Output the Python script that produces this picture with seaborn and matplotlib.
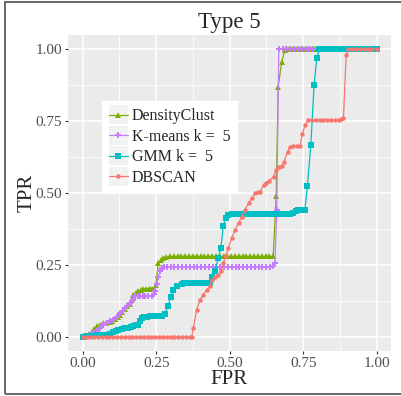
import numpy as np
import pandas as pd
import matplotlib
matplotlib.use('Agg')
import matplotlib.pyplot as plt
from matplotlib.patches import Rectangle
from matplotlib.legend_handler import HandlerLine2D
import seaborn as sns

# ROC points
dens_fpr = [0, 0.01, 0.02, 0.03, 0.04, 0.048, 0.06, 0.07, 0.08, 0.093, 0.10, 0.11, 0.12,
            0.127, 0.135, 0.144, 0.152, 0.161, 0.167, 0.172, 0.18, 0.189, 0.197, 0.206,
            0.215, 0.224, 0.233, 0.24, 0.249, 0.257, 0.265, 0.274, 0.285, 0.297,
            0.31, 0.323, 0.336, 0.349, 0.362, 0.375, 0.388, 0.401, 0.414, 0.427, 0.44,
            0.453, 0.466, 0.479, 0.492, 0.505, 0.518, 0.531, 0.544, 0.557, 0.57, 0.583,
            0.596, 0.609, 0.622, 0.635, 0.648, 0.658, 0.665, 0.677, 0.688,
            0.70, 0.713, 0.726, 0.739, 0.752, 0.765, 0.778, 0.791, 0.804, 0.817, 0.83,
            0.843, 0.856, 0.869, 0.882, 0.895, 0.908, 0.921, 0.934, 0.947, 0.96, 0.973,
            0.986, 1.0]
dens_tpr = [0, 0.005, 0.01, 0.016, 0.027, 0.037, 0.043, 0.049, 0.05, 0.052, 0.056, 0.063, 0.07,
            0.078, 0.088, 0.097, 0.106, 0.116, 0.13, 0.147, 0.153, 0.159, 0.163, 0.167,
            0.167, 0.167, 0.167, 0.167, 0.182, 0.257, 0.266, 0.274, 0.278, 0.28,
            0.28, 0.28, 0.28, 0.28, 0.28, 0.28, 0.28, 0.28, 0.28, 0.28, 0.28,
            0.28, 0.28, 0.28, 0.28, 0.28, 0.28, 0.28, 0.28, 0.28, 0.28, 0.28,
            0.28, 0.28, 0.28, 0.28, 0.28, 0.488, 0.869, 0.956, 0.997,
            1, 1, 1, 1, 1, 1, 1, 1, 1, 1, 1,
            1, 1, 1, 1, 1, 1, 1, 1, 1, 1, 1,
            1, 1]

km_fpr = [0, 0.012, 0.024, 0.036, 0.048, 0.059, 0.07, 0.082, 0.093, 0.104, 0.115, 0.127,
          0.136, 0.144, 0.152, 0.161, 0.17, 0.178, 0.187, 0.195, 0.204, 0.213, 0.222,
          0.235, 0.241, 0.246, 0.252, 0.257, 0.263, 0.269, 0.278, 0.286,
          0.299, 0.312, 0.325, 0.338, 0.351, 0.364, 0.377, 0.39, 0.403, 0.416, 0.429,
          0.442, 0.455, 0.468, 0.481, 0.494, 0.507, 0.52, 0.533, 0.546, 0.559, 0.572,
          0.585, 0.598, 0.611, 0.624, 0.637, 0.648, 0.654, 0.66, 0.667,
          0.68, 0.693, 0.706, 0.719, 0.732, 0.745, 0.758, 0.771, 0.784, 0.797, 0.81,
          0.823, 0.836, 0.849, 0.862, 0.875, 0.888, 0.901, 0.914, 0.927, 0.94, 0.953,
          0.966, 0.979, 0.992, 1.0]
km_tpr = [0, 0.002, 0.006, 0.014, 0.022, 0.031, 0.04, 0.049, 0.055, 0.06, 0.07, 0.083,
          0.092, 0.1, 0.109, 0.118, 0.13, 0.141, 0.141, 0.141, 0.141, 0.141, 0.141,
          0.141, 0.15, 0.159, 0.185, 0.21, 0.228, 0.24, 0.242, 0.243,
          0.243, 0.243, 0.243, 0.243, 0.243, 0.243, 0.243, 0.243, 0.243, 0.243, 0.243,
          0.243, 0.243, 0.243, 0.243, 0.243, 0.243, 0.243, 0.243, 0.243, 0.243, 0.243,
          0.243, 0.243, 0.243, 0.243, 0.243, 0.245, 0.257, 0.44, 1.0,
          1, 1, 1, 1, 1, 1, 1, 1, 1, 1, 1,
          1, 1, 1, 1, 1, 1, 1, 1, 1, 1, 1,
          1, 1, 1, 1]

gmm_fpr = [0, 0.012, 0.024, 0.036, 0.048, 0.059, 0.07, 0.082, 0.093, 0.104, 0.113, 0.121,
           0.132, 0.144, 0.155, 0.165, 0.172, 0.18, 0.189, 0.195, 0.2, 0.21, 0.22, 0.229,
           0.24, 0.25, 0.26, 0.269, 0.28, 0.289, 0.3, 0.308, 0.32, 0.337, 0.345, 0.354,
           0.363, 0.372, 0.381, 0.39, 0.399, 0.408, 0.417, 0.426, 0.433,
           0.439, 0.45, 0.461, 0.47, 0.478, 0.486, 0.495, 0.507,
           0.516, 0.525, 0.534, 0.543, 0.552, 0.561, 0.57, 0.579, 0.588, 0.597, 0.606,
           0.615, 0.624, 0.633, 0.642, 0.651, 0.66, 0.669, 0.678, 0.687, 0.696, 0.705,
           0.714, 0.724, 0.732, 0.739, 0.747, 0.756, 0.764, 0.776, 0.787, 0.796, 0.805,
           0.814, 0.823, 0.832, 0.841, 0.85, 0.859, 0.868, 0.877, 0.886, 0.895, 0.904,
           0.913, 0.922, 0.931, 0.94, 0.949, 0.958, 0.967, 0.976, 0.985, 0.994, 1.0]
gmm_tpr = [0, 0.002, 0.004, 0.005, 0.006, 0.007, 0.007, 0.008, 0.012, 0.016, 0.021, 0.025,
           0.028, 0.031, 0.032, 0.033, 0.037, 0.04, 0.043, 0.055, 0.066, 0.068, 0.07, 0.072,
           0.072, 0.072, 0.072, 0.072, 0.081, 0.106, 0.139, 0.162, 0.178, 0.185, 0.187, 0.188,
           0.188, 0.188, 0.188, 0.188, 0.188, 0.188, 0.188, 0.188, 0.188,
           0.21, 0.228, 0.274, 0.309, 0.384, 0.413, 0.424, 0.428,
           0.428, 0.428, 0.428, 0.428, 0.428, 0.428, 0.428, 0.428, 0.428, 0.428, 0.428,
           0.428, 0.428, 0.428, 0.428, 0.428, 0.428, 0.428, 0.428, 0.428, 0.428, 0.428,
           0.43, 0.436, 0.44, 0.442, 0.442, 0.442, 0.523, 0.667, 0.875, 0.968, 1.0,
           1, 1, 1, 1, 1, 1, 1, 1, 1, 1, 1,
           1, 1, 1, 1, 1, 1, 1, 1, 1, 1, 1]

db_fpr = [0, 0.013, 0.026, 0.039, 0.052, 0.065, 0.078, 0.091, 0.104, 0.117, 0.13, 0.143,
          0.156, 0.169, 0.182, 0.195, 0.208, 0.221, 0.234, 0.247, 0.26, 0.273, 0.286,
          0.299, 0.312, 0.325, 0.338, 0.351, 0.364, 0.371, 0.376, 0.388, 0.399, 0.41,
          0.422, 0.433, 0.439, 0.45, 0.461, 0.47, 0.478, 0.487, 0.495, 0.507, 0.518,
          0.53, 0.541, 0.552, 0.564, 0.575, 0.586, 0.595, 0.603, 0.615, 0.623, 0.632,
          0.649, 0.658, 0.666, 0.677, 0.685, 0.697, 0.705, 0.717, 0.728, 0.739, 0.747,
          0.756, 0.768, 0.78, 0.793, 0.806, 0.819, 0.832, 0.845, 0.858, 0.871, 0.878,
          0.887, 0.896, 0.904, 0.917, 0.93, 0.943, 0.956, 0.969, 0.982, 1.0]
db_tpr = [0, 0, 0, 0, 0, 0, 0, 0, 0, 0, 0, 0,
          0, 0, 0, 0, 0, 0, 0, 0, 0, 0, 0,
          0, 0, 0, 0, 0, 0, 0, 0.031, 0.095, 0.13, 0.147,
          0.164, 0.176, 0.197, 0.208, 0.216, 0.228, 0.257, 0.28, 0.309, 0.343, 0.372,
          0.395, 0.418, 0.442, 0.465, 0.482, 0.499, 0.502, 0.505, 0.528, 0.535, 0.54,
          0.557, 0.58, 0.592, 0.594, 0.609, 0.644, 0.661, 0.664, 0.664, 0.664, 0.704,
          0.736, 0.754, 0.754, 0.754, 0.754, 0.754, 0.754, 0.754, 0.754, 0.754, 0.756,
          0.76, 0.979, 1.0, 1, 1, 1, 1, 1, 1, 1]

methods = ['DensityClust', 'K-means k =  5', 'GMM k =  5', 'DBSCAN']
fprs = [dens_fpr, km_fpr, gmm_fpr, db_fpr]
tprs = [dens_tpr, km_tpr, gmm_tpr, db_tpr]
colors = ['#7CAE00', '#C77CFF', '#00BFC4', '#F8766D']
markers = ['^', 'P', 's', 'o']
msizes = [4, 5, 4.5, 3.2]


class KeyHandler(HandlerLine2D):
    # grey key box behind each legend entry, like ggplot
    def create_artists(self, legend, orig_handle, xdescent, ydescent, width, height,
                       fontsize, trans):
        arts = super().create_artists(legend, orig_handle, xdescent, ydescent, width,
                                      height, fontsize, trans)
        h = 13.7
        yc = height / 2 - ydescent
        box = Rectangle((-xdescent, yc - h / 2), width, h, facecolor='#F2F2F2',
                        edgecolor='none', transform=trans)
        return [box] + list(arts)


sns.set_style('darkgrid', {'axes.facecolor': '#EBEBEB', 'grid.color': 'white'})
plt.rcParams['font.family'] = ['Liberation Serif', 'DejaVu Serif']

fig = plt.figure(figsize=(4.01, 3.96), dpi=100)
ax = fig.add_axes([68 / 401, 1 - 351.4 / 396, 323.4 / 401, 316.8 / 396])

for name, fx, ty, c, m, ms in zip(methods, fprs, tprs, colors, markers, msizes):
    d = pd.DataFrame({'FPR': fx, 'TPR': ty})
    sns.lineplot(data=d, x='FPR', y='TPR', sort=False, estimator=None, ax=ax,
                 color=c, marker=m, markersize=ms, markeredgewidth=0,
                 linewidth=0.9, label=name)

ax.set_xlim(-0.05, 1.05)
ax.set_ylim(-0.05, 1.05)
ticks = [0, 0.25, 0.5, 0.75, 1.0]
ax.set_xticks(ticks)
ax.set_yticks(ticks)
ax.set_xticklabels(['0.00', '0.25', '0.50', '0.75', '1.00'])
ax.set_yticklabels(['0.00', '0.25', '0.50', '0.75', '1.00'])
ax.set_xticks([0.125, 0.375, 0.625, 0.875], minor=True)
ax.set_yticks([0.125, 0.375, 0.625, 0.875], minor=True)
ax.grid(which='major', color='white', linewidth=1.1)
ax.grid(which='minor', color='white', linewidth=0.55)
ax.tick_params(which='major', length=2.5, width=0.8, color='#333333', pad=1.5,
               labelsize=11, labelcolor='#4D4D4D', bottom=True, left=True)
ax.tick_params(which='minor', length=0)
for s in ax.spines.values():
    s.set_visible(False)
ax.set_xlabel('')
ax.set_ylabel('')

fig.text(229 / 401, 1 - 384 / 396, 'FPR', ha='center', va='baseline', fontsize=15)
fig.text(27 / 401, 1 - 193 / 396, 'TPR', ha='center', va='center', fontsize=15,
         rotation=90)
fig.text(229 / 401, 1 - 28 / 396, 'Type 5', ha='center', va='baseline', fontsize=16.5)

handles, labels = ax.get_legend_handles_labels()
leg = ax.legend(handles, labels, loc='upper left',
                bbox_to_anchor=((102 - 68) / 323.4, (351.4 - 101) / 316.8),
                borderaxespad=0, fontsize=11.5, handlelength=1.15, handletextpad=0.25,
                labelspacing=0.28, borderpad=0.45, fancybox=False, frameon=True,
                handler_map={h: KeyHandler() for h in handles})
leg.get_frame().set_facecolor('white')
leg.get_frame().set_edgecolor('white')
leg.get_frame().set_alpha(1)

fig.patches.append(Rectangle((5 / 401, 2 / 396), 1.2, 392.5 / 396, transform=fig.transFigure,
                             fill=False, edgecolor='#666666', linewidth=1.4))

fig.savefig('out.png', dpi=100)
